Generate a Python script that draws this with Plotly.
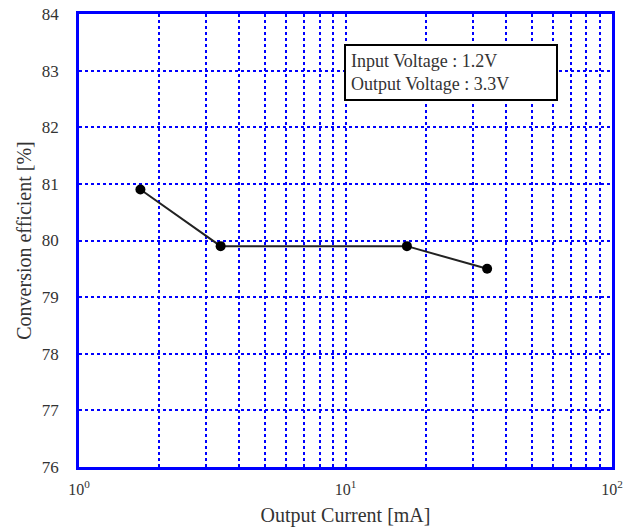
import plotly.graph_objects as go

current_mA = [1.7, 3.4, 17.0, 34.0]
efficiency = [80.9, 79.9, 79.9, 79.5]
x_tickvals = [1, 10, 100]
x_ticktext = ["10<sup>0</sup>", "10<sup>1</sup>", "10<sup>2</sup>"]
y_tickvals = [76, 77, 78, 79, 80, 81, 82, 83, 84]
box_text = "Input Voltage : 1.2V<br>Output Voltage : 3.3V"

BLUE = "#0000FF"
FONT = "Liberation Serif"

fig = go.Figure()
fig.add_trace(go.Scatter(
    x=current_mA, y=efficiency, mode="lines+markers",
    line=dict(color="#222222", width=2),
    marker=dict(color="#000000", size=10),
    showlegend=False,
))

fig.update_layout(
    width=634, height=529,
    margin=dict(l=79, r=22, t=14, b=62),
    paper_bgcolor="white", plot_bgcolor="white",
    font=dict(family=FONT, size=16, color="#333333"),
    xaxis=dict(
        type="log", range=[0, 2], automargin=False,
        tickvals=x_tickvals, ticktext=x_ticktext,
        tickfont=dict(size=16),
        showgrid=True, gridcolor=BLUE, griddash="dot", gridwidth=1.5,
        minor=dict(dtick="D1", showgrid=True, gridcolor=BLUE, griddash="dot", gridwidth=1.5),
        showline=True, mirror=True, linecolor=BLUE, linewidth=2.5,
        ticks="outside", ticklen=6, tickcolor="rgba(0,0,0,0)",
        title=dict(text="Output Current [mA]", standoff=12, font=dict(size=20)),
        zeroline=False,
    ),
    yaxis=dict(
        range=[76, 84], tickvals=y_tickvals, automargin=False,
        tickfont=dict(size=17),
        showgrid=True, gridcolor=BLUE, griddash="dot", gridwidth=1.5,
        showline=True, mirror=True, linecolor=BLUE, linewidth=2.5,
        ticks="outside", ticklen=14, tickcolor="rgba(0,0,0,0)",
        title=dict(text="Conversion efficient [%]", standoff=5, font=dict(size=20)),
        zeroline=False,
    ),
)

fig.add_annotation(
    x=0.698, y=0.870, xref="paper", yref="paper",
    xanchor="center", yanchor="middle",
    text=box_text, showarrow=False, align="left",
    font=dict(family=FONT, size=18, color="#333333"),
    bordercolor="#000000", borderwidth=2, borderpad=5,
    bgcolor="white", width=200,
)

fig.write_html("out.html")
